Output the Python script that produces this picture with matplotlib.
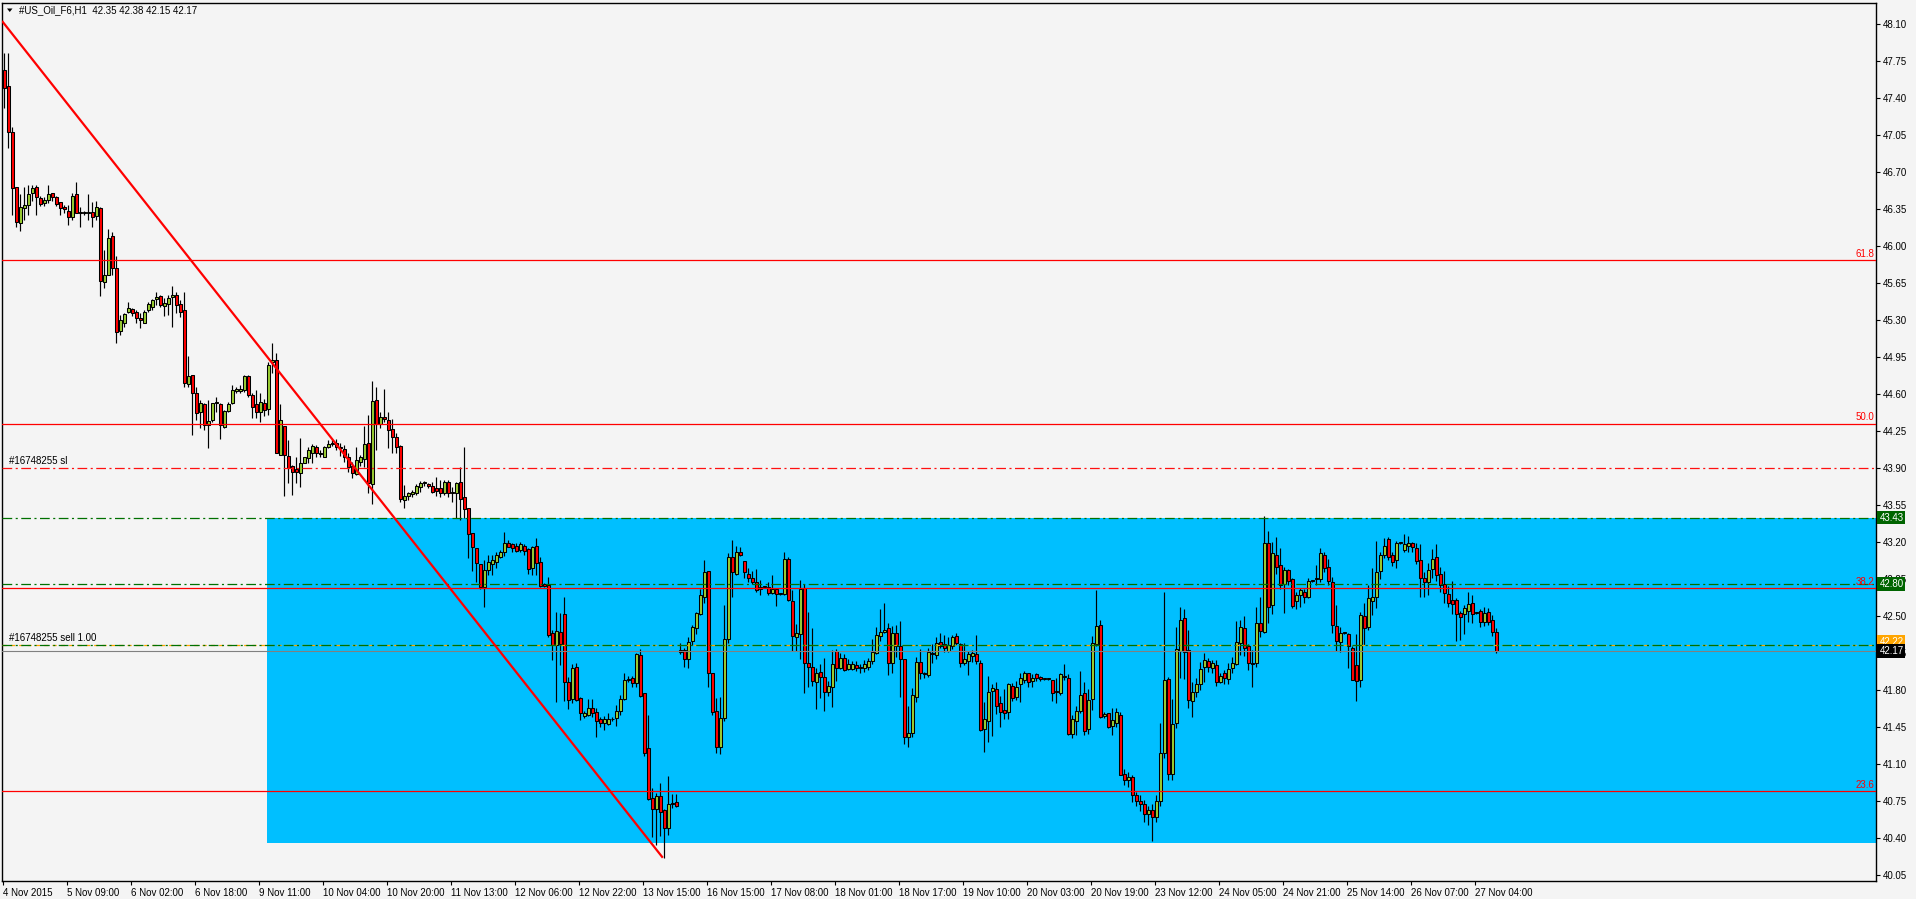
import matplotlib
matplotlib.use("Agg")
import matplotlib.pyplot as plt
import matplotlib.transforms as mtransforms
from matplotlib.patches import Rectangle, Polygon
import numpy as np

plt.rcParams["font.family"] = ["Liberation Sans", "DejaVu Sans"]
plt.rcParams["lines.scale_dashes"] = False

# ---- chart data (H1 bars) ----
chart_title = "#US_Oil_F6,H1  42.35 42.38 42.15 42.17"

opens = [
    47.67, 47.51, 47.08, 46.56, 46.22, 46.36, 46.39, 46.50, 46.56, 46.45,
    46.41, 46.44, 46.50, 46.46, 46.42, 46.37, 46.33, 46.27, 46.49, 46.32,
    46.31, 46.31, 46.32, 46.28, 46.36, 45.66, 45.73, 46.09, 45.79, 45.20,
    45.27, 45.38, 45.40, 45.38, 45.32, 45.27, 45.39, 45.42, 45.50, 45.53,
    45.43, 45.45, 45.52, 45.54, 45.45, 45.39, 44.69, 44.78, 44.61, 44.43,
    44.50, 44.31, 44.35, 44.51, 44.50, 44.29, 44.44, 44.51, 44.63, 44.63,
    44.64, 44.77, 44.59, 44.50, 44.43, 44.51, 44.46, 44.90, 44.92, 44.02,
    44.30, 44.01, 43.92, 43.89, 43.85, 43.95, 43.99, 44.04, 44.10, 44.04,
    44.00, 44.10, 44.14, 44.14, 44.10, 44.08, 44.00, 43.92, 43.84, 43.96,
    43.98, 44.14, 43.75, 44.54, 44.32, 44.38, 44.35, 44.27, 44.19, 44.11,
    43.60, 43.63, 43.65, 43.66, 43.72, 43.76, 43.75, 43.73, 43.71, 43.71,
    43.66, 43.77, 43.67, 43.66, 43.77, 43.62, 43.52, 43.28, 43.14, 42.99,
    42.77, 42.93, 42.99, 43.01, 43.06, 43.10, 43.19, 43.18, 43.16, 43.12,
    43.16, 43.13, 42.95, 43.16, 43.01, 42.80, 42.79, 42.34, 42.22, 42.35,
    42.52, 41.87, 41.71, 42.02, 41.72, 41.55, 41.56, 41.63, 41.59, 41.52,
    41.49, 41.48, 41.52, 41.53, 41.60, 41.71, 41.89, 41.91, 41.86, 42.13,
    41.77, 41.25, 40.78, 40.67, 40.79, 40.66, 40.49, 40.72, 40.74, 42.18,
    42.18, 42.09, 42.26, 42.38, 42.52, 42.68, 42.92, 41.96, 41.60, 41.26,
    41.53, 42.28, 43.06, 42.90, 43.10, 43.02, 42.90, 42.86, 42.82, 42.75,
    42.77, 42.77, 42.72, 42.75, 42.71, 42.71, 43.04, 42.64, 42.30, 42.33,
    42.76, 42.05, 42.02, 41.87, 41.97, 41.92, 41.78, 41.83, 42.17, 42.01,
    42.10, 42.00, 42.00, 42.03, 42.02, 42.01, 42.02, 42.07, 42.15, 42.31,
    42.35, 42.38, 42.05, 42.34, 42.21, 42.09, 41.35, 41.39, 41.73, 42.06,
    41.96, 41.94, 42.15, 42.13, 42.25, 42.23, 42.17, 42.21, 42.31, 42.23,
    42.05, 42.07, 42.12, 42.14, 42.05, 41.43, 41.50, 41.79, 41.81, 41.67,
    41.61, 41.59, 41.84, 41.73, 41.85, 41.89, 41.96, 41.88, 41.95, 41.92,
    41.90, 41.90, 41.89, 41.79, 41.77, 41.93, 41.91, 41.38, 41.50, 41.60,
    41.77, 41.43, 41.71, 42.23, 42.41, 41.55, 41.58, 41.46, 41.49, 41.56,
    41.00, 40.95, 40.97, 40.80, 40.75, 40.72, 40.62, 40.66, 40.60, 40.75,
    41.20, 41.90, 41.00, 41.49, 42.17, 42.48, 42.18, 41.69, 41.78, 41.85,
    42.02, 42.07, 42.01, 42.03, 41.87, 41.96, 41.90, 42.01, 42.04, 42.24,
    42.38, 42.21, 42.05, 42.05, 42.43, 42.35, 43.19, 42.60, 43.08, 42.98,
    42.80, 42.93, 42.85, 42.64, 42.70, 42.73, 42.68, 42.83, 42.85, 42.85,
    43.08, 42.96, 42.82, 42.40, 42.25, 42.34, 42.33, 42.20, 42.03, 41.89,
    42.50, 42.39, 42.64, 42.68, 42.92, 43.08, 43.23, 43.08, 43.03, 43.19,
    43.12, 43.16, 43.19, 43.14, 43.03, 42.86, 42.82, 42.94, 43.06, 42.90,
    42.80, 42.71, 42.65, 42.65, 42.53, 42.52, 42.55, 42.62, 42.53, 42.55,
    42.44, 42.54, 42.46, 42.35,
]

highs = [
    47.83, 47.83, 47.13, 46.56, 46.49, 46.56, 46.58, 46.58, 46.58, 46.47,
    46.46, 46.58, 46.50, 46.47, 46.42, 46.39, 46.39, 46.50, 46.61, 46.37,
    46.33, 46.49, 46.42, 46.43, 46.37, 45.96, 46.16, 46.13, 45.91, 45.35,
    45.37, 45.47, 45.41, 45.39, 45.37, 45.39, 45.47, 45.50, 45.56, 45.54,
    45.51, 45.54, 45.62, 45.56, 45.49, 45.56, 44.96, 44.78, 44.67, 44.54,
    44.51, 44.54, 44.51, 44.57, 44.51, 44.45, 44.52, 44.68, 44.67, 44.68,
    44.78, 44.78, 44.61, 44.64, 44.61, 44.55, 44.90, 45.08, 44.99, 44.50,
    44.30, 44.16, 43.93, 44.00, 44.18, 44.00, 44.10, 44.13, 44.12, 44.07,
    44.11, 44.16, 44.16, 44.17, 44.14, 44.12, 44.04, 43.96, 44.10, 44.02,
    44.30, 44.40, 44.72, 44.67, 44.43, 44.65, 44.43, 44.36, 44.23, 44.12,
    43.74, 43.67, 43.69, 43.75, 43.78, 43.78, 43.76, 43.77, 43.81, 43.79,
    43.79, 43.79, 43.72, 43.77, 43.91, 44.10, 43.52, 43.28, 43.14, 42.99,
    43.03, 43.08, 43.08, 43.10, 43.12, 43.29, 43.22, 43.19, 43.19, 43.20,
    43.18, 43.14, 43.16, 43.24, 43.06, 42.81, 42.87, 42.37, 42.54, 42.53,
    42.68, 41.92, 42.04, 42.05, 41.73, 41.60, 41.71, 41.71, 41.63, 41.54,
    41.55, 41.58, 41.54, 41.66, 41.75, 41.96, 41.93, 41.93, 42.15, 42.19,
    41.77, 41.56, 40.87, 40.82, 40.92, 40.67, 40.98, 40.81, 40.81, 42.24,
    42.20, 42.30, 42.41, 42.54, 42.75, 43.03, 42.92, 41.96, 41.72, 41.73,
    42.60, 43.09, 43.22, 43.16, 43.15, 43.02, 42.95, 42.92, 42.94, 42.84,
    42.78, 42.82, 42.89, 42.76, 42.72, 43.10, 43.06, 42.74, 42.42, 42.84,
    42.80, 42.54, 42.38, 42.01, 42.04, 42.10, 41.88, 42.18, 42.19, 42.15,
    42.14, 42.09, 42.07, 42.07, 42.04, 42.08, 42.10, 42.28, 42.39, 42.56,
    42.62, 42.43, 42.40, 42.41, 42.45, 42.09, 41.65, 41.82, 42.11, 42.19,
    41.97, 42.20, 42.23, 42.30, 42.34, 42.32, 42.30, 42.32, 42.34, 42.24,
    42.24, 42.17, 42.18, 42.32, 42.08, 41.68, 41.93, 41.85, 41.87, 41.74,
    41.81, 41.86, 41.86, 41.88, 41.96, 41.98, 41.96, 41.95, 41.96, 41.93,
    41.91, 41.91, 41.89, 41.91, 41.96, 42.04, 41.95, 41.56, 41.65, 41.98,
    41.87, 41.81, 42.31, 42.74, 42.46, 41.59, 41.58, 41.63, 41.63, 41.59,
    41.05, 41.02, 40.99, 40.83, 40.80, 40.76, 40.70, 40.72, 40.80, 41.49,
    42.73, 41.92, 41.71, 42.39, 42.58, 42.56, 42.37, 41.87, 41.91, 42.06,
    42.15, 42.10, 42.08, 42.08, 41.96, 41.99, 42.05, 42.11, 42.45, 42.46,
    42.50, 42.23, 42.18, 42.58, 42.68, 43.44, 43.30, 43.20, 43.25, 43.14,
    42.96, 42.94, 42.86, 42.73, 42.76, 42.75, 42.86, 42.84, 42.98, 43.14,
    43.10, 43.04, 42.87, 42.60, 42.39, 42.35, 42.34, 42.21, 42.33, 42.54,
    42.62, 42.79, 42.95, 43.21, 43.10, 43.24, 43.25, 43.10, 43.21, 43.20,
    43.27, 43.26, 43.20, 43.19, 43.18, 42.91, 43.00, 43.13, 43.18, 42.96,
    42.92, 42.78, 42.83, 42.67, 42.55, 42.60, 42.73, 42.70, 42.54, 42.56,
    42.58, 42.57, 42.51, 42.38,
]

lows = [
    47.31, 46.93, 46.29, 46.18, 46.14, 46.25, 46.29, 46.43, 46.29, 46.38,
    46.38, 46.41, 46.43, 46.38, 46.29, 46.31, 46.20, 46.25, 46.31, 46.18,
    46.29, 46.25, 46.18, 46.25, 45.53, 45.60, 45.73, 45.73, 45.08, 45.16,
    45.23, 45.37, 45.34, 45.27, 45.22, 45.27, 45.38, 45.39, 45.44, 45.42,
    45.34, 45.35, 45.23, 45.37, 45.33, 44.67, 44.67, 44.21, 44.35, 44.28,
    44.26, 44.09, 44.33, 44.43, 44.17, 44.28, 44.43, 44.50, 44.61, 44.61,
    44.62, 44.57, 44.37, 44.37, 44.33, 44.39, 44.40, 44.80, 44.04, 44.02,
    43.63, 43.76, 43.64, 43.76, 43.72, 43.95, 43.95, 43.95, 44.00, 44.00,
    44.00, 44.09, 44.11, 44.07, 44.01, 43.96, 43.86, 43.80, 43.83, 43.92,
    43.91, 43.66, 43.56, 44.07, 44.28, 44.33, 44.09, 44.04, 44.04, 43.58,
    43.52, 43.60, 43.62, 43.64, 43.67, 43.73, 43.71, 43.66, 43.63, 43.62,
    43.64, 43.62, 43.58, 43.43, 43.41, 43.43, 43.05, 42.92, 42.82, 42.75,
    42.58, 42.89, 42.89, 42.95, 43.05, 43.07, 43.15, 43.10, 43.10, 43.10,
    43.08, 42.90, 42.89, 42.89, 42.77, 42.77, 42.30, 42.08, 41.68, 42.03,
    41.69, 41.62, 41.67, 41.69, 41.51, 41.53, 41.55, 41.54, 41.35, 41.45,
    41.42, 41.47, 41.50, 41.46, 41.56, 41.70, 41.87, 41.83, 41.83, 41.73,
    41.17, 40.76, 40.41, 40.33, 40.42, 40.21, 40.43, 40.68, 40.69, 42.14,
    42.02, 42.01, 42.22, 42.33, 42.51, 42.62, 41.83, 41.56, 41.20, 41.19,
    41.50, 42.24, 42.68, 42.89, 43.07, 42.86, 42.82, 42.80, 42.73, 42.70,
    42.76, 42.70, 42.71, 42.59, 42.70, 42.70, 42.64, 42.17, 42.17, 42.09,
    41.77, 41.83, 41.84, 41.62, 41.72, 41.60, 41.74, 41.64, 41.88, 42.00,
    41.98, 41.99, 41.99, 41.98, 41.96, 41.97, 41.99, 42.04, 42.14, 42.26,
    42.34, 41.94, 41.96, 42.11, 41.73, 41.29, 41.26, 41.35, 41.68, 41.90,
    41.91, 41.92, 42.05, 42.09, 42.20, 42.16, 42.16, 42.19, 42.22, 42.02,
    42.03, 41.94, 42.06, 42.04, 41.41, 41.21, 41.31, 41.36, 41.57, 41.45,
    41.52, 41.52, 41.69, 41.70, 41.68, 41.86, 41.83, 41.83, 41.88, 41.88,
    41.89, 41.89, 41.69, 41.67, 41.75, 41.89, 41.37, 41.34, 41.37, 41.58,
    41.37, 41.38, 41.61, 42.21, 41.53, 41.53, 41.44, 41.37, 41.45, 40.99,
    40.90, 40.88, 40.74, 40.70, 40.65, 40.55, 40.52, 40.37, 40.55, 40.70,
    41.15, 40.95, 40.95, 41.44, 41.91, 41.90, 41.63, 41.54, 41.73, 41.80,
    41.87, 41.97, 41.96, 41.84, 41.86, 41.85, 41.85, 41.96, 42.03, 42.13,
    42.12, 41.99, 41.83, 42.02, 42.30, 42.34, 42.43, 42.52, 42.90, 42.75,
    42.53, 42.79, 42.57, 42.56, 42.58, 42.62, 42.67, 42.82, 42.79, 42.82,
    42.91, 42.79, 42.34, 42.17, 42.16, 42.33, 42.01, 41.89, 41.69, 41.83,
    42.22, 42.37, 42.51, 42.57, 42.85, 43.05, 43.03, 42.97, 42.95, 43.18,
    43.10, 43.10, 43.10, 42.99, 42.68, 42.68, 42.70, 42.86, 42.83, 42.73,
    42.62, 42.58, 42.52, 42.26, 42.27, 42.33, 42.44, 42.43, 42.52, 42.39,
    42.40, 42.41, 42.31, 42.15,
]

closes = [
    47.50, 47.08, 46.55, 46.23, 46.37, 46.39, 46.49, 46.55, 46.46, 46.40,
    46.44, 46.49, 46.46, 46.40, 46.36, 46.35, 46.27, 46.47, 46.31, 46.31,
    46.31, 46.32, 46.27, 46.37, 45.67, 45.73, 46.08, 45.79, 45.19, 45.30,
    45.36, 45.41, 45.37, 45.32, 45.30, 45.38, 45.45, 45.49, 45.52, 45.44,
    45.46, 45.51, 45.54, 45.44, 45.38, 44.70, 44.77, 44.61, 44.42, 44.51,
    44.31, 44.34, 44.51, 44.52, 44.31, 44.44, 44.50, 44.64, 44.65, 44.65,
    44.77, 44.59, 44.48, 44.43, 44.52, 44.45, 44.87, 44.92, 44.04, 44.35,
    44.02, 43.90, 43.86, 43.86, 43.95, 44.00, 44.07, 44.11, 44.04, 44.03,
    44.10, 44.13, 44.13, 44.10, 44.09, 44.00, 43.91, 43.85, 43.97, 44.00,
    44.13, 43.76, 44.53, 44.32, 44.38, 44.36, 44.26, 44.19, 44.10, 43.61,
    43.63, 43.66, 43.67, 43.73, 43.76, 43.77, 43.73, 43.67, 43.68, 43.66,
    43.77, 43.66, 43.66, 43.76, 43.61, 43.51, 43.27, 43.15, 43.00, 42.77,
    42.93, 43.01, 43.03, 43.08, 43.10, 43.19, 43.15, 43.14, 43.11, 43.18,
    43.11, 42.94, 43.15, 43.00, 42.78, 42.78, 42.32, 42.22, 42.36, 42.23,
    41.87, 41.70, 42.01, 41.70, 41.58, 41.58, 41.63, 41.58, 41.50, 41.49,
    41.52, 41.52, 41.52, 41.60, 41.71, 41.89, 41.90, 41.86, 42.14, 41.74,
    41.20, 40.77, 40.67, 40.79, 40.64, 40.49, 40.72, 40.73, 40.70, 42.16,
    42.09, 42.25, 42.39, 42.53, 42.70, 42.91, 41.96, 41.59, 41.26, 41.53,
    42.28, 43.06, 42.91, 43.10, 43.08, 42.91, 42.86, 42.82, 42.74, 42.77,
    42.77, 42.72, 42.75, 42.71, 42.71, 43.04, 42.65, 42.31, 42.34, 42.75,
    42.05, 42.02, 41.88, 41.96, 41.92, 41.78, 41.84, 42.04, 42.01, 42.10,
    41.99, 42.04, 42.04, 42.01, 42.01, 42.04, 42.07, 42.16, 42.32, 42.35,
    42.37, 42.05, 42.34, 42.21, 42.09, 41.35, 41.39, 41.75, 42.06, 41.96,
    41.95, 42.16, 42.14, 42.24, 42.21, 42.20, 42.22, 42.30, 42.24, 42.05,
    42.09, 42.14, 42.15, 42.07, 41.42, 41.52, 41.78, 41.82, 41.65, 41.59,
    41.58, 41.85, 41.72, 41.83, 41.91, 41.96, 41.87, 41.91, 41.91, 41.90,
    41.90, 41.90, 41.77, 41.78, 41.95, 41.92, 41.38, 41.52, 41.60, 41.75,
    41.41, 41.70, 42.24, 42.40, 41.54, 41.57, 41.45, 41.51, 41.59, 40.99,
    40.95, 40.97, 40.80, 40.75, 40.72, 40.62, 40.66, 40.60, 40.75, 41.20,
    41.89, 41.00, 41.48, 42.19, 42.46, 42.16, 41.70, 41.78, 41.85, 42.00,
    42.08, 42.02, 42.05, 41.87, 41.93, 41.91, 42.00, 42.05, 42.25, 42.39,
    42.20, 42.05, 42.04, 42.43, 42.36, 43.19, 42.58, 43.09, 42.96, 42.79,
    42.93, 42.83, 42.59, 42.70, 42.74, 42.68, 42.83, 42.83, 42.86, 43.09,
    42.95, 42.83, 42.41, 42.26, 42.34, 42.34, 42.21, 41.89, 41.88, 42.51,
    42.38, 42.67, 42.68, 42.91, 43.08, 43.16, 43.06, 43.01, 43.19, 43.19,
    43.18, 43.19, 43.15, 43.02, 42.86, 42.82, 42.93, 43.04, 42.89, 42.79,
    42.72, 42.62, 42.61, 42.52, 42.49, 42.57, 42.61, 42.52, 42.53, 42.44,
    42.53, 42.44, 42.35, 42.17,
]

# time axis labels, one every 16 bars
time_labels = [
    "4 Nov 2015", "5 Nov 09:00", "6 Nov 02:00", "6 Nov 18:00", "9 Nov 11:00",
    "10 Nov 04:00", "10 Nov 20:00", "11 Nov 13:00", "12 Nov 06:00", "12 Nov 22:00",
    "13 Nov 15:00", "16 Nov 15:00", "17 Nov 08:00", "18 Nov 01:00", "18 Nov 17:00",
    "19 Nov 10:00", "20 Nov 03:00", "20 Nov 19:00", "23 Nov 12:00", "24 Nov 05:00",
    "24 Nov 21:00", "25 Nov 14:00", "26 Nov 07:00", "27 Nov 04:00",
]
bars_per_label = 16

price_ticks = [48.10, 47.75, 47.40, 47.05, 46.70, 46.35, 46.00, 45.65, 45.30, 44.95,
               44.60, 44.25, 43.90, 43.55, 43.20, 42.85, 42.50, 42.15, 41.80, 41.45,
               41.10, 40.75, 40.40, 40.05]

# objects on the chart
fib_names = ["61.8", "50.0", "38.2", "23.6"]
fib_prices = [45.87, 44.32, 42.76, 40.84]

order_id = "#16748255"
sl_price = 43.90
tp_price = 43.43
level_price = 42.80
sell_price = 42.22
bid_price = 42.17

trend_bars = [-0.5, 164.7]
trend_prices = [48.13, 40.21]

box_start_bar = 65.75
box_top = 43.43
box_bottom = 40.35

# ---- figure ----
W, H = 1916, 899
BG = "#f4f4f4"
BULL = "#9acd32"
BEAR = "#ff0000"
GREEN = "#007000"
FS = 7.0

fig = plt.figure(figsize=(W / 100, H / 100), dpi=100, facecolor=BG)
# plot frame in pixels: x 2..1876, y 3..881
ax = fig.add_axes([2 / W, 1 - 881 / H, 1874 / W, 878 / H])
ax.set_facecolor(BG)
ax.set_xlim(-0.5, 468)
ax.set_ylim(39.99, 48.30)

o = np.array(opens)
h = np.array(highs)
l = np.array(lows)
c = np.array(closes)
assert len(o) == len(h) == len(l) == len(c)
x = np.arange(len(o))

# background rectangle
ax.add_patch(Rectangle((box_start_bar, box_bottom), 600, box_top - box_bottom,
                       facecolor="#00bfff", edgecolor="none", zorder=0.5))

# candles
top = np.maximum(h, np.maximum(o, c))
bot = np.minimum(l, np.minimum(o, c))
ax.vlines(x, bot, top, color="black", lw=0.85, zorder=2)
up = c >= o
body_b = np.minimum(o, c)
body_h = np.maximum(np.abs(c - o), 0.008)
ax.bar(x[up], body_h[up], bottom=body_b[up], width=0.75, color=BULL,
       edgecolor="black", linewidth=0.75, zorder=3)
ax.bar(x[~up], body_h[~up], bottom=body_b[~up], width=0.75, color=BEAR,
       edgecolor="black", linewidth=0.75, zorder=3)

# fibo levels
tr = mtransforms.blended_transform_factory(ax.transAxes, ax.transData)
for name, p in zip(fib_names, fib_prices):
    ax.axhline(p, color="red", lw=0.9, zorder=4)
    ax.text(0.999, p + 0.01, name, transform=tr, ha="right", va="bottom",
            color="red", fontsize=FS, zorder=6)

# order lines
dashdot = (0, (7, 2.5, 1.5, 2.5))
ax.axhline(sl_price, color="#ff1010", lw=0.9, linestyle=dashdot, zorder=4)
ax.axhline(tp_price, color=GREEN, lw=0.9, linestyle=dashdot, zorder=4)
ax.axhline(level_price, color=GREEN, lw=0.9, linestyle=dashdot, zorder=4)
ax.axhline(sell_price, color="#ffa500", lw=0.9, linestyle=(0, (3, 3)), zorder=4)
ax.axhline(sell_price, color=GREEN, lw=0.9, linestyle=dashdot, zorder=4.1)
ax.axhline(bid_price, color="#808080", lw=0.8, zorder=4)
ax.text(0.0037, sl_price + 0.02, order_id + " sl", transform=tr, ha="left",
        va="bottom", fontsize=FS, zorder=6)
ax.text(0.0037, sell_price + 0.02, order_id + " sell 1.00", transform=tr,
        ha="left", va="bottom", fontsize=FS, zorder=6)

# trend line
ax.plot(trend_bars, trend_prices, color="red", lw=1.6, zorder=5,
        solid_capstyle="butt")

# axes styling
for s in ax.spines.values():
    s.set_color("black")
    s.set_linewidth(1.0)
ax.yaxis.tick_right()
ax.set_yticks(price_ticks)
ax.set_yticklabels([f"{p:.2f}" for p in price_ticks])
ax.set_xticks([i * bars_per_label - 0.25 for i in range(len(time_labels))])
ax.set_xticklabels(time_labels)
ax.tick_params(axis="y", direction="out", length=3, width=0.8, pad=2,
               labelsize=FS, colors="black")
ax.tick_params(axis="x", direction="out", length=3, width=0.8, pad=2,
               labelsize=FS, colors="black")
for t in ax.get_xticklabels():
    t.set_ha("left")

# price boxes on the right scale
def price_box(price, text, fc):
    ax.text(1.0018, price, text, transform=tr, ha="left", va="center",
            color="white", fontsize=FS, clip_on=False, zorder=10,
            bbox=dict(boxstyle="square,pad=0.2", fc=fc, ec="none"))

price_box(tp_price, f"{tp_price:.2f}", "#006400")
price_box(level_price, f"{level_price:.2f}", "#006400")
price_box(sell_price + 0.03, f"{sell_price:.2f}", "#ffa500")
price_box(bid_price, f"{bid_price:.2f}", "black")

# header
fig.text(19 / W, 1 - 10 / H, chart_title, ha="left", va="center", fontsize=FS)
fig.add_artist(Polygon([(7 / W, 1 - 8.5 / H), (12.5 / W, 1 - 8.5 / H),
                        (9.75 / W, 1 - 12 / H)], closed=True,
                       transform=fig.transFigure, facecolor="black",
                       edgecolor="none"))

fig.savefig("out.png", dpi=100, facecolor=BG)
